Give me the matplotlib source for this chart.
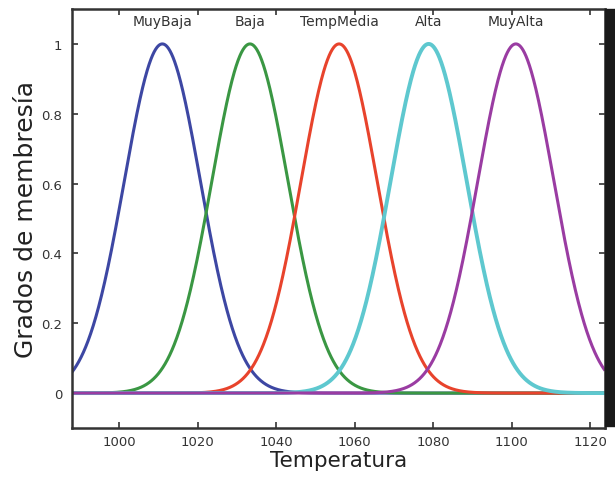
import numpy as np
import matplotlib
matplotlib.use("Agg")
import matplotlib.pyplot as plt
from matplotlib.patches import Rectangle

labels = ["MuyBaja", "Baja", "TempMedia", "Alta", "MuyAlta"]
centers = [1011.0, 1033.3, 1056.0, 1078.8, 1101.0]
sigmas = [9.7, 9.7, 9.7, 9.7, 9.7]
colors = ["#3d47a3", "#3a9743", "#e8432c", "#5ec8cf", "#9a3ca2"]
widths = [2.2, 2.2, 2.2, 2.8, 2.2]
xticks = [1000, 1020, 1040, 1060, 1080, 1100, 1120]
yticks = [0, 0.2, 0.4, 0.6, 0.8, 1]
ytick_labels = ["0", "0.2", "0.4", "0.6", "0.8", "1"]

plt.rcParams['font.family'] = ['DejaVu Sans']
fig = plt.figure(figsize=(6.15, 4.81), dpi=100)
ax = fig.add_axes([72/615, 1-429/481, (605-72)/615, (429-10)/481])

x = np.linspace(985, 1130, 1500)
for c, s, col, lw in zip(centers, sigmas, colors, widths):
    ax.plot(x, np.exp(-(x - c)**2 / (2*s*s)), color=col, lw=lw, solid_capstyle='butt')

for lab, c in zip(labels, centers):
    ax.text(c, 1.066, lab, ha='center', va='center', fontsize=10, color='#333333')

ax.set_xlim(988, 1123.7)
ax.set_ylim(-0.1, 1.1)
ax.set_xticks(xticks)
ax.set_xticklabels([str(t) for t in xticks])
ax.set_yticks(yticks)
ax.set_yticklabels(ytick_labels)
ax.tick_params(direction='in', top=True, right=True, length=4, width=1.2,
               labelsize=9.5, colors='#333333', pad=7)
ax.tick_params(axis='x', pad=5)
for sp in ax.spines.values():
    sp.set_linewidth(1.8)
    sp.set_color('#333333')

ax.set_xlabel("Temperatura", fontsize=15.5, color='#222222')
ax.xaxis.set_label_coords(0.5, -0.053)
ax.set_ylabel("Grados de membresía", fontsize=18, color='#222222')
ax.yaxis.set_label_coords(-0.064, 0.5)

fig.patches.append(Rectangle((605/615, 1-427/481), 10/615, (427-10)/481,
                             transform=fig.transFigure, color='#1a1a1a'))

fig.savefig("out.png", dpi=100)
